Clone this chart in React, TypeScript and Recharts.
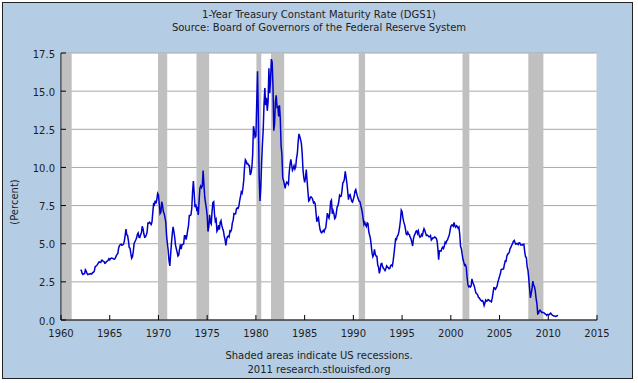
import React from 'react';
import {
  ComposedChart,
  Line,
  XAxis,
  YAxis,
  CartesianGrid,
  ReferenceArea,
  ReferenceLine,
} from 'recharts';

// monthly 1-year constant maturity rate, Jan 1962 .. Jan 2011 (percent)
const rates1960s = [
  3.29, 3.26, 3.06, 2.99, 3.03, 3.03, 3.29, 3.2, 3.06, 2.98, 3.0, 3.01,
  3.04, 3.01, 3.03, 3.11, 3.12, 3.2, 3.48, 3.53, 3.57, 3.64, 3.74, 3.81,
  3.79, 3.78, 3.91, 3.91, 3.84, 3.83, 3.72, 3.74, 3.84, 3.86, 3.91, 4.02,
  3.94, 4.03, 4.06, 4.04, 4.03, 3.99, 3.98, 4.07, 4.2, 4.3, 4.37, 4.72,
  4.88, 4.94, 4.97, 4.9, 4.93, 4.97, 5.17, 5.54, 5.95, 5.58, 5.54, 5.2,
  4.75, 4.71, 4.35, 4.05, 4.15, 4.48, 5.01, 5.13, 5.24, 5.37, 5.61, 5.71,
  5.43, 5.41, 5.58, 5.71, 6.14, 5.98, 5.65, 5.43, 5.45, 5.57, 5.75, 6.35,
  6.34, 6.41, 6.34, 6.26, 6.42, 7.04, 7.6, 7.54, 7.82, 7.64, 7.89, 8.3,
];
const rates1970s = [
  8.2, 7.59, 6.97, 7.06, 7.75, 7.55, 7.1, 6.98, 6.73, 6.43, 5.51, 5.0,
  4.57, 3.89, 3.55, 4.3, 5.04, 5.64, 6.1, 5.8, 5.41, 4.91, 4.67, 4.45,
  4.2, 4.27, 4.67, 4.96, 4.64, 4.93, 4.96, 4.98, 5.52, 5.52, 5.27, 5.52,
  5.89, 6.19, 6.85, 6.85, 6.89, 7.31, 8.39, 9.1, 8.31, 7.4, 7.57, 7.27,
  7.42, 6.88, 7.76, 8.62, 8.78, 8.67, 8.8, 9.8, 8.87, 8.05, 7.66, 7.31,
  6.83, 5.8, 6.11, 6.9, 6.39, 6.29, 7.11, 7.7, 7.75, 6.95, 6.49, 6.6,
  5.81, 5.91, 6.21, 5.92, 6.4, 6.52, 6.2, 6.0, 5.84, 5.5, 5.29, 4.89,
  5.29, 5.47, 5.5, 5.44, 5.84, 5.8, 5.94, 6.37, 6.53, 6.97, 6.95, 6.96,
  7.28, 7.34, 7.31, 7.45, 7.82, 8.09, 8.39, 8.31, 8.64, 9.14, 10.01, 10.5,
  10.41, 10.24, 10.25, 10.12, 10.12, 9.5, 9.64, 9.98, 10.84, 12.7, 12.39, 11.98,
];
const rates1980s = [
  12.06, 14.2, 16.3, 13.3, 9.39, 7.8, 8.65, 10.24, 11.52, 12.49, 14.15, 15.2,
  14.08, 14.57, 13.71, 14.32, 16.5, 14.86, 15.72, 17.1, 16.9, 15.38, 12.41, 12.85,
  14.32, 14.73, 13.95, 13.98, 13.34, 14.07, 13.24, 11.43, 10.85, 9.32, 9.16, 8.91,
  8.62, 8.92, 9.04, 8.98, 8.9, 9.66, 10.2, 10.53, 10.16, 9.81, 9.94, 10.11,
  9.9, 10.04, 10.59, 10.9, 11.66, 12.2, 12.03, 11.82, 11.58, 10.9, 9.82, 9.33,
  9.02, 9.29, 9.86, 9.14, 8.46, 7.8, 7.86, 8.05, 8.07, 8.01, 7.88, 7.67,
  7.73, 7.61, 7.03, 6.44, 6.65, 6.73, 6.27, 5.93, 5.77, 5.72, 5.8, 5.87,
  5.78, 5.96, 6.03, 6.5, 7.0, 6.8, 6.68, 7.03, 7.75, 7.85, 6.96, 7.17,
  6.99, 6.64, 6.71, 7.01, 7.4, 7.49, 7.75, 8.17, 8.09, 8.11, 8.48, 8.99,
  9.05, 9.25, 9.75, 9.36, 8.98, 8.44, 7.89, 8.18, 8.22, 7.99, 7.77, 7.72,
];
const rates1990s = [
  7.92, 8.11, 8.45, 8.55, 8.32, 8.1, 7.94, 7.78, 7.76, 7.55, 7.31, 7.05,
  6.64, 6.27, 6.4, 6.24, 6.13, 6.36, 6.31, 5.78, 5.57, 5.33, 4.89, 4.38,
  4.15, 4.29, 4.63, 4.3, 4.19, 4.17, 3.6, 3.47, 3.05, 3.3, 3.68, 3.71,
  3.5, 3.39, 3.33, 3.24, 3.36, 3.54, 3.47, 3.44, 3.36, 3.39, 3.58, 3.61,
  3.54, 3.87, 4.32, 4.82, 5.31, 5.27, 5.48, 5.56, 5.76, 6.11, 6.54, 7.2,
  7.1, 6.7, 6.43, 6.27, 6.0, 5.64, 5.59, 5.75, 5.62, 5.59, 5.43, 5.31,
  5.09, 4.85, 5.34, 5.54, 5.64, 5.81, 5.85, 5.67, 5.83, 5.55, 5.42, 5.47,
  5.61, 5.53, 5.8, 5.99, 5.87, 5.69, 5.54, 5.56, 5.52, 5.46, 5.46, 5.53,
  5.24, 5.31, 5.39, 5.38, 5.44, 5.41, 5.36, 5.21, 4.71, 3.95, 4.53, 4.52,
  4.51, 4.7, 4.78, 4.69, 4.85, 5.1, 5.03, 5.2, 5.25, 5.43, 5.55, 5.84,
];
const rates2000s = [
  6.12, 6.22, 6.22, 6.15, 6.4, 6.17, 6.08, 6.18, 6.13, 6.01, 6.09, 5.6,
  4.81, 4.68, 4.3, 3.98, 3.78, 3.58, 3.62, 3.47, 2.82, 2.33, 2.18, 2.22,
  2.16, 2.23, 2.7, 2.48, 2.35, 2.2, 1.96, 1.76, 1.72, 1.65, 1.49, 1.45,
  1.36, 1.3, 1.24, 1.27, 1.18, 0.95, 1.12, 1.31, 1.24, 1.25, 1.34, 1.31,
  1.24, 1.24, 1.19, 1.43, 1.78, 2.12, 2.1, 2.02, 2.12, 2.23, 2.5, 2.67,
  2.86, 3.03, 3.3, 3.32, 3.33, 3.36, 3.64, 3.87, 3.85, 4.18, 4.33, 4.35,
  4.45, 4.68, 4.77, 4.9, 5.0, 5.16, 5.22, 5.08, 4.97, 5.01, 5.01, 4.94,
  5.06, 5.05, 4.92, 4.93, 4.91, 4.96, 4.96, 4.47, 4.14, 4.1, 3.5, 3.26,
  2.71, 2.05, 1.45, 1.74, 2.06, 2.55, 2.28, 2.18, 1.91, 1.42, 1.07, 0.4,
  0.44, 0.62, 0.64, 0.55, 0.5, 0.51, 0.48, 0.46, 0.4, 0.37, 0.31, 0.37,
];
const rates2010s = [
  0.35, 0.35, 0.4, 0.45, 0.37, 0.32, 0.29, 0.26, 0.26, 0.23, 0.25, 0.29,
  0.27,
];

const firstYear = 1962;

// NBER recessions [start, end] as fractional years
const recessions = [
  [1960.1, 1961.1],
  [1969.95, 1970.9],
  [1973.9, 1975.2],
  [1980.05, 1980.55],
  [1981.55, 1982.9],
  [1990.55, 1991.2],
  [2001.2, 2001.9],
  [2007.95, 2009.5],
];

const xTicks = [1960, 1965, 1970, 1975, 1980, 1985, 1990, 1995, 2000, 2005, 2010, 2015];
const yTicks = [0, 2.5, 5, 7.5, 10, 12.5, 15, 17.5];

const allRates = [
  ...rates1960s,
  ...rates1970s,
  ...rates1980s,
  ...rates1990s,
  ...rates2000s,
  ...rates2010s,
];
const data = allRates.map((v, i) => ({ t: firstYear + i / 12, rate: v }));

const W = 638;
const H = 383;
const PLOT_LEFT = 61;
const PLOT_RIGHT = 597;
const PLOT_TOP = 53;
const PLOT_BOTTOM = 320;

const FONT = '"DejaVu Sans", Verdana, sans-serif';
const BG = '#B4CCE4';
const TEXT = '#1e1e1e';

function XTick(props: any) {
  const { x, payload } = props;
  return (
    <g>
      <line x1={x} x2={x} y1={PLOT_BOTTOM} y2={PLOT_BOTTOM - 5} stroke="#000" />
      <text x={x} y={PLOT_BOTTOM + 17} textAnchor="middle" fontSize={10} fill={TEXT} fontFamily={FONT}>
        {payload.value}
      </text>
    </g>
  );
}

function YTick(props: any) {
  const { y, payload } = props;
  return (
    <g>
      <line x1={PLOT_LEFT} x2={PLOT_LEFT + 5} y1={y} y2={y} stroke="#000" />
      <text x={PLOT_LEFT - 6} y={y + 4.5} textAnchor="end" fontSize={10} fill={TEXT} fontFamily={FONT}>
        {Number(payload.value).toFixed(1)}
      </text>
    </g>
  );
}

const textLine = (top: number, s: string) => (
  <div
    style={{
      position: 'absolute',
      left: 0,
      top,
      width: W,
      textAlign: 'center',
      fontFamily: FONT,
      fontSize: 10,
      lineHeight: '12px',
      color: TEXT,
      whiteSpace: 'nowrap',
    }}
  >
    {s}
  </div>
);

export default function App() {
  return (
    <div style={{ position: 'absolute', left: 0, top: 0, width: W, height: H, background: '#fff' }}>
      <div
        style={{
          position: 'absolute',
          left: 2,
          top: 2,
          width: 629,
          height: 375,
          border: '1px solid #222',
          background: BG,
        }}
      />
      {textLine(9, '1-Year Treasury Constant Maturity Rate (DGS1)')}
      {textLine(22, 'Source: Board of Governors of the Federal Reserve System')}
      {textLine(350, 'Shaded areas indicate US recessions.')}
      {textLine(364, '2011 research.stlouisfed.org')}
      <div
        style={{
          position: 'absolute',
          left: 14,
          top: 202,
          transform: 'translate(-50%, -50%) rotate(-90deg)',
          fontFamily: FONT,
          fontSize: 10,
          color: TEXT,
          whiteSpace: 'nowrap',
        }}
      >
        (Percent)
      </div>
      <div style={{ position: 'absolute', left: 0, top: 0 }}>
        <ComposedChart
          width={W}
          height={H}
          data={data}
          margin={{ top: PLOT_TOP, right: W - PLOT_RIGHT, bottom: H - PLOT_BOTTOM - 30, left: PLOT_LEFT - 40 }}
        >
          <CartesianGrid vertical={false} stroke="#A8A8A8" fill="#fff" />
          {recessions.map(([a, b]) => (
            <ReferenceArea
              key={a}
              x1={a}
              x2={b}
              y1={0}
              y2={17.5}
              fill="#C0C0C0"
              fillOpacity={1}
              stroke="none"
            />
          ))}
          <ReferenceLine x={2015} stroke="#C8C8C8" />
          <XAxis
            dataKey="t"
            type="number"
            domain={[1960, 2015]}
            ticks={xTicks}
            height={30}
            axisLine={{ stroke: '#000' }}
            tickLine={false}
            tick={XTick}
            interval={0}
            allowDataOverflow
          />
          <YAxis
            type="number"
            domain={[0, 17.5]}
            ticks={yTicks}
            width={40}
            axisLine={{ stroke: '#000' }}
            tickLine={false}
            tick={YTick}
            interval={0}
            allowDataOverflow
          />
          <Line
            dataKey="rate"
            type="linear"
            stroke="#0000CC"
            strokeWidth={1.5}
            dot={false}
            isAnimationActive={false}
          />
        </ComposedChart>
      </div>
    </div>
  );
}
